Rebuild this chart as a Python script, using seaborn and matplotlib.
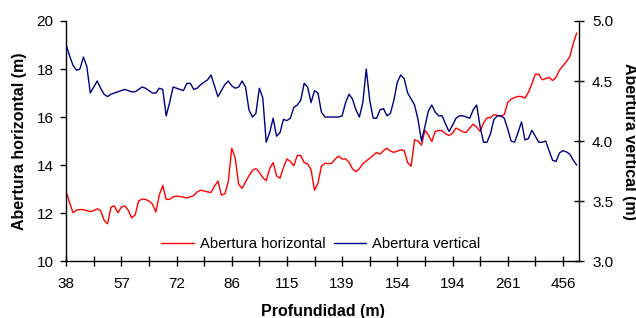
import numpy as np
import pandas as pd
import seaborn as sns
import matplotlib.pyplot as plt
from matplotlib.ticker import MultipleLocator, FixedLocator

# --- data (one point per category) ---
depth_labels = ["38", "57", "72", "86", "115", "139", "154", "194", "261", "456"]

abertura_horizontal = [
    12.9, 12.43, 12.01, 12.12, 12.15, 12.14, 12.1, 12.06, 12.1, 12.18,
    12.1, 11.7, 11.55, 12.25, 12.3, 12.01, 12.25, 12.3, 12.12, 11.8,
    11.92, 12.5, 12.58, 12.57, 12.5, 12.38, 12.04, 12.75, 13.15, 12.57,
    12.57, 12.68, 12.7, 12.69, 12.66, 12.63, 12.68, 12.73, 12.88, 12.95,
    12.92, 12.88, 12.86, 13.12, 13.33, 12.75, 12.8, 13.3, 14.7, 14.3,
    13.2, 13.03, 13.3, 13.55, 13.78, 13.85, 13.7, 13.47, 13.35, 13.85,
    14.1, 13.55, 13.45, 13.9, 14.25, 14.15, 13.97, 14.4, 14.4, 14.1,
    14.05, 13.8, 12.95, 13.25, 13.95, 14.07, 14.06, 14.07, 14.25, 14.37,
    14.25, 14.26, 14.12, 13.84, 13.72, 13.85, 14.05, 14.17, 14.28, 14.4,
    14.52, 14.46, 14.6, 14.7, 14.58, 14.53, 14.58, 14.63, 14.6, 14.1,
    13.95, 15.05, 15.0, 14.83, 15.45, 15.25, 14.98, 15.4, 15.44, 15.43,
    15.3, 15.23, 15.32, 15.54, 15.47, 15.38, 15.36, 15.55, 15.7, 15.58,
    15.4, 15.75, 15.97, 15.97, 16.1, 16.07, 16.03, 16.1, 16.6, 16.75,
    16.81, 16.86, 16.85, 16.79, 17.03, 17.38, 17.78, 17.78, 17.55, 17.6,
    17.65, 17.52, 17.65, 17.95, 18.13, 18.3, 18.52, 19.05, 19.5,
]

abertura_vertical = [
    4.80, 4.71, 4.63, 4.59, 4.60, 4.70, 4.62, 4.40, 4.45, 4.50,
    4.44, 4.39, 4.37, 4.39, 4.40, 4.41, 4.42, 4.43, 4.42, 4.41,
    4.41, 4.43, 4.45, 4.44, 4.42, 4.40, 4.40, 4.44, 4.43, 4.21,
    4.32, 4.45, 4.44, 4.43, 4.42, 4.48, 4.48, 4.43, 4.44, 4.47,
    4.49, 4.51, 4.55, 4.46, 4.37, 4.42, 4.47, 4.50, 4.46, 4.44,
    4.45, 4.50, 4.45, 4.26, 4.20, 4.23, 4.44, 4.36, 3.99, 4.07,
    4.19, 4.04, 4.07, 4.18, 4.17, 4.19, 4.28, 4.30, 4.34, 4.48,
    4.45, 4.32, 4.42, 4.40, 4.24, 4.20, 4.20, 4.20, 4.20, 4.20,
    4.21, 4.32, 4.39, 4.35, 4.26, 4.20, 4.32, 4.60, 4.34, 4.19,
    4.19, 4.26, 4.27, 4.21, 4.23, 4.34, 4.49, 4.55, 4.52, 4.40,
    4.35, 4.30, 4.18, 4.00, 4.12, 4.25, 4.30, 4.24, 4.21, 4.21,
    4.14, 4.08, 4.13, 4.19, 4.21, 4.21, 4.20, 4.19, 4.26, 4.30,
    4.12, 3.99, 3.99, 4.06, 4.18, 4.21, 4.21, 4.19, 4.10, 4.00,
    3.99, 4.07, 4.16, 4.01, 4.02, 4.09, 4.04, 3.99, 3.99, 4.00,
    3.92, 3.84, 3.83, 3.90, 3.92, 3.91, 3.89, 3.84, 3.80,
]

df = pd.DataFrame({
    "idx": np.arange(len(abertura_horizontal)),
    "horizontal": abertura_horizontal,
    "vertical": abertura_vertical,
})

sns.set_theme(style="white")
plt.rcParams["font.family"] = ["Liberation Sans", "DejaVu Sans"]
plt.rcParams.update({"text.color": "black", "axes.labelcolor": "black",
                     "xtick.color": "black", "ytick.color": "black"})

fig = plt.figure(figsize=(6.36, 3.18), dpi=100)
ax = fig.add_axes([0.104, 0.179, 0.806, 0.755])
ax2 = ax.twinx()

sns.lineplot(data=df, x="idx", y="horizontal", ax=ax, color="#FF0000",
             linewidth=1.0, label="Abertura horizontal", legend=False)
sns.lineplot(data=df, x="idx", y="vertical", ax=ax2, color="#000080",
             linewidth=1.0, label="Abertura vertical", legend=False)

ax.set_xlim(0, 148.6)
ax.set_ylim(10, 20)
ax2.set_ylim(3.0, 5.0)
ax.yaxis.set_major_locator(MultipleLocator(2))
ax2.yaxis.set_major_locator(MultipleLocator(0.5))
ax2.set_yticklabels([f"{v:.1f}" for v in ax2.get_yticks()])

# category axis: label every 16th point, tick every 8th
ax.xaxis.set_major_locator(FixedLocator(np.arange(0, 145, 16)))
ax.xaxis.set_minor_locator(FixedLocator(np.arange(8, 149, 16)))
ax.set_xticklabels(depth_labels)

for a in (ax, ax2):
    a.set_facecolor("none")
    a.spines["top"].set_visible(False)
    for s in a.spines.values():
        s.set_color("black")
        s.set_linewidth(1.0)

ax.spines["right"].set_visible(False)
ax2.spines["left"].set_visible(False)
ax2.spines["bottom"].set_visible(False)

ax.tick_params(axis="x", which="both", direction="inout", length=7, width=1,
               color="black", labelcolor="black", labelsize=11, pad=8, bottom=True)
ax.tick_params(axis="y", direction="out", length=4, width=1, color="black",
               labelcolor="black", labelsize=11, pad=5, left=True)
ax2.tick_params(axis="y", direction="inout", length=7, width=1, color="black",
                labelcolor="black", labelsize=11, pad=6, right=True)

ax.set_xlabel("Profundidad (m)", fontsize=11.5, fontweight="bold", labelpad=9)
ax.set_ylabel("Abertura horizontal (m)", fontsize=11.5, fontweight="bold", labelpad=7)
ax2.set_ylabel("Abertura vertical (m)", fontsize=11.5, fontweight="bold",
               rotation=-90, labelpad=17)

handles = ax.get_lines()[:1] + ax2.get_lines()[:1]
leg = ax.legend(handles, ["Abertura horizontal", "Abertura vertical"], ncol=2,
                loc="lower center", bbox_to_anchor=(0.497, -0.015), frameon=False,
                fontsize=10.6, handlelength=2.2, handletextpad=0.4, columnspacing=0.6)
for t in leg.get_texts():
    t.set_color("black")

fig.savefig("out.png", dpi=100)
